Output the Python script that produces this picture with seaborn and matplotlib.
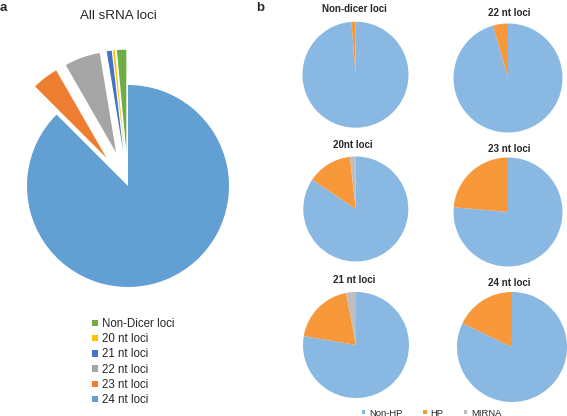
import matplotlib
matplotlib.use("Agg")
import matplotlib.pyplot as plt
import seaborn as sns

# Data
all_labels = ['Non-Dicer loci', '20 nt loci', '21 nt loci', '22 nt loci', '23 nt loci', '24 nt loci']
all_share = [1.5, 0.3, 0.8, 5.7, 4.2, 87.5]

hp_classes = ['Non-HP', 'HP', 'MIRNA']
hp_titles = ['Non-dicer loci', '22 nt loci', '20nt loci', '23 nt loci', '21 nt loci', '24 nt loci']
non_hp = [98.8, 95.6, 84.4, 76.4, 77.7, 82.1]
hp = [1.2, 4.4, 13.8, 23.6, 19.3, 17.9]
mirna = [0.0, 0.0, 1.8, 0.0, 3.0, 0.0]

sns.set_theme(style="white")
plt.rcParams['font.family'] = ['Liberation Sans', 'DejaVu Sans']

all_colors = ['#70AD47', '#FFC000', '#4472C4', '#A5A5A5', '#ED7D31', '#62A0D4']
hp_colors = ['#89B8E2', '#F7983A', '#BEBEBE']

W, H = 567, 416
fig = plt.figure(figsize=(W / 100, H / 100), dpi=100)


def px_axes(cx, cy, r, lim=1.0):
    # axes centred on pixel (cx, cy), data range [-lim, lim] maps to radius r
    ax = fig.add_axes([(cx - r * lim) / W, 1 - (cy + r * lim) / H,
                       2 * r * lim / W, 2 * r * lim / H])
    return ax


def fix_limits(ax, lim=1.0):
    # pie() resets the limits, so put them back afterwards
    ax.set_xlim(-lim, lim)
    ax.set_ylim(-lim, lim)
    ax.set_aspect('equal')
    ax.axis('off')


def px_text(x, y, s, **kw):
    fig.text(x / W, 1 - y / H, s, **kw)


# Panel a
ax = px_axes(128, 186, 101, lim=1.45)
explode = [0.35] * 5 + [0.0]
wedges, _ = ax.pie(all_share, colors=all_colors, explode=explode, startangle=90,
                   counterclock=True, radius=1, wedgeprops=dict(linewidth=0))
fix_limits(ax, 1.45)
for w in wedges:
    w.set_clip_on(False)

px_text(118.5, 16, 'All sRNA loci', ha='center', va='center', fontsize=9.6)
px_text(0, 8, 'a', ha='left', va='center', fontsize=9.5, fontweight='bold')
px_text(256, 8, 'b', ha='left', va='center', fontsize=9.5, fontweight='bold')

fig.legend(wedges, all_labels, loc='upper left', bbox_to_anchor=(92 / W, 1 - 318 / H),
           frameon=False, fontsize=8.3, handlelength=0.5, handleheight=0.5,
           handletextpad=0.35, labelspacing=0.28, borderaxespad=0, borderpad=0)

# Panel b
centers = [(355.5, 74.7, 53), (508, 78, 54.5), (355.8, 209, 52.5),
           (508, 212, 54.5), (356, 345, 53), (512, 347, 55)]
title_pos = [(354, 8.5), (509.5, 12.5), (352.5, 145), (509.5, 149.5), (354, 280), (509.5, 283.5)]

hp_wedges = None
for i, title in enumerate(hp_titles):
    cx, cy, r = centers[i]
    axb = px_axes(cx, cy, r)
    vals = [non_hp[i], hp[i], mirna[i]]
    ws, _ = axb.pie(vals, colors=hp_colors, startangle=90, counterclock=False,
                    radius=1, wedgeprops=dict(linewidth=0))
    fix_limits(axb)
    if hp_wedges is None:
        hp_wedges = ws
    tx, ty = title_pos[i]
    px_text(tx, ty, title, ha='center', va='center', fontsize=7, fontweight='bold')

fig.legend(hp_wedges, hp_classes, loc='center left', bbox_to_anchor=(362 / W, 1 - 413 / H),
           ncol=3, frameon=False, fontsize=6.8, handlelength=0.35, handleheight=0.35,
           handletextpad=0.4, columnspacing=2.2, borderaxespad=0, borderpad=0)

fig.savefig('out.png', dpi=100)
